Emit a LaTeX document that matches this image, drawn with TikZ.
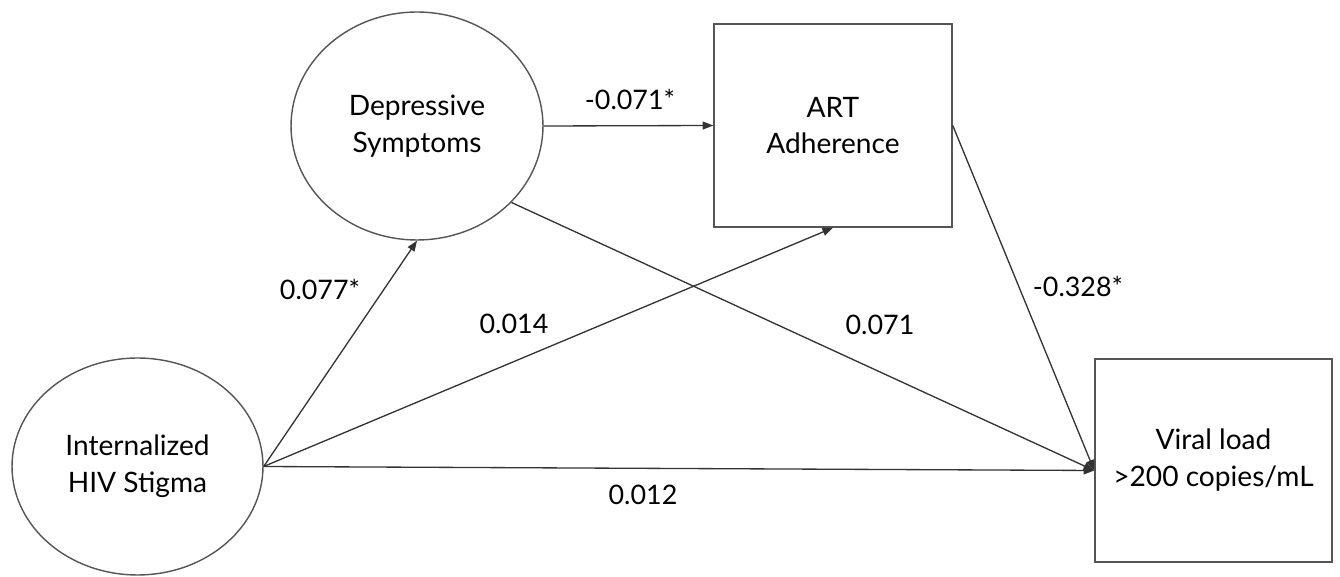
\documentclass[tikz,border=0pt]{standalone}
\usepackage{fontspec}
\setmainfont{Lato}
\usetikzlibrary{shapes.geometric,arrows.meta}
\definecolor{edgegray}{HTML}{333333}
\definecolor{boxgray}{HTML}{555555}
\begin{document}
\begin{tikzpicture}[x=0.02cm,y=-0.02cm,
  every node/.style={font=\fontsize{16}{21}\selectfont, text=black},
  latent/.style={ellipse, draw=boxgray, line width=0.8pt, inner sep=0pt, align=center},
  observed/.style={rectangle, draw=boxgray, line width=0.9pt, inner sep=0pt, align=center},
  path/.style={draw=edgegray, line width=0.75pt, -{Triangle[length=6pt,width=4.5pt]}},
  coef/.style={inner sep=0pt, font=\fontsize{15.3}{18}\selectfont}
]
\useasboundingbox (0,0) rectangle (1340,577);
\node[latent, minimum width=5.04cm, minimum height=4.56cm] (dep) at (417,126) {Depressive\\Symptoms};
\node[latent, minimum width=5.02cm, minimum height=4.34cm] (stig) at (137.5,466.5) {Internalized\\HIV Stigma};
\node[observed, minimum width=4.76cm, minimum height=4.06cm] (art) at (833,125.5) {ART\\Adherence};
\node[observed, minimum width=4.74cm, minimum height=4.06cm] (vl) at (1213.5,460.5) {Viral load\\>200 copies/mL};
\coordinate (vlin) at ([yshift=-0.2cm]vl.west);
\draw[path] (stig.east) -- (dep.south);
\draw[path] (stig.east) -- (art.south);
\draw[path] (stig.east) -- (vlin);
\draw[path] (dep.east) -- (art.west);
\draw[path] (dep.-39) -- (vlin);
\draw[path] (art.east) -- (vlin);
\node[coef] (l1) at (630,99) {-0.071*};
\node[coef] (l2) at (320,289) {0.077*};
\node[coef] (l3) at (514,324) {0.014};
\node[coef] (l4) at (880,325) {0.071};
\node[coef] (l5) at (1078,286) {-0.328*};
\node[coef] (l6) at (643,495) {0.012};
\end{tikzpicture}
\end{document}
